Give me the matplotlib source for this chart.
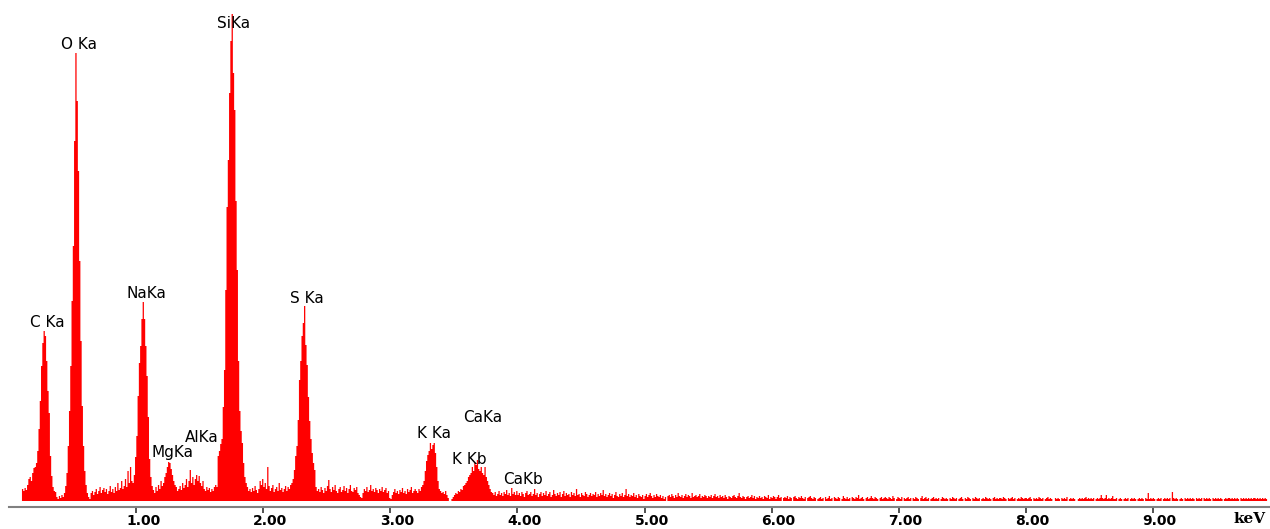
import numpy as np
import matplotlib
matplotlib.use("Agg")
import matplotlib.pyplot as plt
from matplotlib.transforms import ScaledTranslation

# ---------------- data ----------------
energy_start = 0.10      # keV, first channel
channel_width = 0.01     # keV per channel

counts = [
    # 0.10 - 0.99
    12, 10, 13, 11, 16, 22, 24, 20, 28, 33,
    34, 38, 50, 72, 100, 135, 158, 170, 165, 140,
    110, 88, 45, 25, 14, 10, 9, 4, 2, 5,
    3, 6, 4, 8, 15, 28, 55, 90, 135, 200,
    255, 360, 448, 400, 330, 240, 160, 95, 55, 30,
    16, 8, 4, 2, 8, 10, 6, 9, 12, 7,
    10, 14, 8, 11, 13, 9, 12, 7, 10, 15,
    9, 12, 8, 14, 10, 18, 11, 13, 20, 12,
    15, 22, 14, 30, 18, 34, 20, 18, 26, 44,
    # 1.00 - 1.99
    65, 105, 138, 155, 182, 199, 182, 155, 125, 84,
    42, 24, 15, 11, 8, 14, 10, 16, 12, 20,
    15, 18, 24, 28, 34, 39, 38, 32, 26, 20,
    16, 14, 10, 12, 15, 11, 18, 13, 16, 22,
    14, 20, 31, 18, 24, 16, 22, 26, 20, 25,
    18, 15, 20, 12, 10, 14, 11, 13, 9, 12,
    10, 14, 16, 14, 45, 50, 57, 62, 94, 131,
    211, 294, 341, 408, 460, 487, 428, 391, 300, 231,
    140, 90, 70, 58, 38, 24, 18, 14, 10, 12,
    9, 13, 10, 15, 11, 8, 12, 20, 16, 22,
    # 2.00 - 2.99
    14, 18, 12, 34, 15, 10, 13, 16, 9, 12,
    14, 10, 18, 11, 13, 9, 12, 15, 10, 14,
    12, 16, 18, 22, 31, 45, 55, 81, 121, 140,
    165, 178, 195, 156, 136, 104, 80, 62, 48, 38,
    31, 14, 10, 12, 9, 14, 11, 8, 13, 10,
    15, 21, 12, 9, 14, 11, 16, 10, 8, 12,
    14, 9, 11, 15, 10, 13, 8, 12, 16, 10,
    9, 13, 11, 14, 8, 6, 4, 3, 8, 12,
    10, 14, 9, 11, 16, 10, 12, 9, 13, 11,
    8, 12, 10, 14, 9, 11, 13, 8, 10, 3,
    # 3.00 - 3.99
    2, 6, 9, 12, 8, 10, 7, 11, 9, 13,
    8, 10, 7, 12, 9, 11, 14, 8, 10, 12,
    10, 8, 12, 10, 14, 16, 20, 30, 40, 46,
    50, 58, 52, 56, 58, 48, 34, 20, 12, 10,
    8, 9, 7, 10, 6, 3, 0, 0, 2, 4,
    6, 8, 7, 10, 9, 12, 11, 15, 16, 18,
    20, 24, 26, 28, 34, 30, 38, 36, 41, 32,
    30, 34, 28, 26, 34, 24, 20, 16, 12, 9,
    8, 6, 9, 5, 7, 10, 6, 8, 5, 9,
    7, 11, 6, 8, 5, 13, 7, 9, 6, 10,
    # 4.00 - 4.99
    6, 8, 5, 9, 7, 4, 8, 10, 6, 7,
    9, 5, 7, 12, 6, 8, 4, 7, 9, 5,
    8, 6, 10, 5, 7, 9, 4, 6, 11, 7,
    5, 8, 6, 9, 4, 7, 10, 5, 8, 6,
    7, 4, 9, 6, 8, 5, 12, 6, 7, 4,
    8, 6, 5, 9, 7, 4, 6, 8, 5, 7,
    6, 9, 4, 7, 5, 8, 6, 11, 5, 7,
    4, 6, 8, 5, 7, 3, 6, 9, 5, 4,
    7, 5, 8, 4, 6, 12, 5, 7, 4, 6,
    5, 8, 4, 6, 3, 7, 5, 4, 6, 2,
    # 5.00 - 5.99
    5, 7, 4, 6, 8, 5, 3, 6, 4, 7,
    5, 4, 6, 3, 5, 2, 4, 0, 5, 6,
    4, 7, 5, 3, 6, 4, 8, 5, 4, 6,
    3, 5, 7, 4, 6, 5, 3, 8, 4, 5,
    6, 4, 5, 7, 3, 5, 4, 6, 5, 3,
    5, 4, 6, 3, 5, 7, 4, 5, 3, 6,
    4, 5, 3, 6, 4, 2, 5, 4, 3, 5,
    6, 4, 3, 5, 8, 4, 3, 5, 4, 2,
    4, 5, 3, 4, 6, 3, 5, 2, 4, 3,
    5, 3, 4, 2, 5, 4, 3, 6, 2, 4,
    # 6.00 - 6.99
    3, 5, 4, 2, 4, 6, 3, 4, 0, 3,
    4, 3, 5, 2, 4, 3, 0, 4, 5, 3,
    2, 4, 3, 5, 3, 2, 4, 0, 3, 4,
    5, 3, 2, 4, 3, 0, 2, 3, 4, 2,
    3, 0, 4, 2, 3, 5, 2, 3, 0, 4,
    3, 2, 4, 3, 0, 2, 5, 3, 2, 4,
    2, 3, 0, 4, 3, 2, 4, 3, 6, 2,
    3, 4, 2, 0, 3, 4, 2, 3, 5, 3,
    2, 4, 3, 2, 0, 3, 4, 2, 3, 4,
    3, 2, 4, 3, 2, 5, 3, 0, 2, 4,
    # 7.00 - 7.99
    3, 2, 4, 0, 3, 2, 3, 4, 2, 3,
    0, 3, 2, 4, 3, 2, 0, 3, 5, 2,
    3, 4, 2, 3, 0, 2, 3, 4, 2, 3,
    2, 3, 0, 2, 4, 3, 2, 3, 2, 0,
    3, 2, 4, 3, 2, 3, 0, 2, 3, 4,
    2, 0, 3, 2, 4, 3, 2, 0, 3, 2,
    4, 3, 2, 3, 0, 2, 3, 2, 4, 3,
    2, 3, 2, 0, 3, 4, 2, 3, 2, 3,
    3, 2, 4, 3, 2, 0, 3, 2, 3, 4,
    2, 3, 0, 2, 3, 2, 4, 3, 2, 3,
    # 8.00 - 8.99
    3, 2, 3, 4, 2, 0, 3, 2, 3, 2,
    4, 3, 2, 3, 0, 2, 3, 4, 2, 3,
    2, 0, 0, 3, 2, 3, 2, 0, 3, 2,
    3, 2, 4, 0, 2, 3, 2, 3, 2, 0,
    0, 2, 3, 2, 3, 2, 3, 4, 2, 3,
    2, 3, 2, 3, 0, 2, 3, 2, 3, 6,
    3, 2, 3, 6, 2, 3, 2, 3, 5, 2,
    2, 3, 0, 2, 3, 2, 0, 2, 3, 2,
    3, 0, 2, 3, 2, 3, 2, 0, 2, 3,
    2, 3, 2, 0, 3, 2, 8, 2, 3, 2,
    # 9.00 - 9.89
    3, 2, 0, 2, 3, 2, 3, 0, 2, 3,
    2, 3, 2, 3, 0, 9, 3, 2, 3, 2,
    0, 2, 3, 2, 0, 3, 2, 3, 2, 3,
    2, 3, 2, 0, 3, 2, 3, 2, 3, 0,
    3, 2, 3, 2, 3, 2, 0, 3, 2, 3,
    2, 3, 2, 3, 2, 0, 2, 3, 2, 3,
    3, 2, 3, 2, 3, 2, 3, 2, 0, 3,
    2, 3, 2, 3, 2, 3, 2, 3, 2, 3,
    3, 2, 3, 2, 3, 2, 3, 2, 3, 2,
]

peak_labels = ["C Ka", "O Ka", "NaKa", "SiKa", "MgKa", "AlKa",
               "S Ka", "K Ka", "CaKa", "K Kb", "CaKb"]
label_energy = [0.164, 0.407, 0.919, 1.635, 1.123, 1.383,
                2.210, 3.209, 3.571, 3.485, 3.886]
label_height = [174, 452, 203, 473, 44, 59,
                198, 63, 79, 37, 17]

tick_values = [1, 2, 3, 4, 5, 6, 7, 8, 9]
tick_labels = ["1.00", "2.00", "3.00", "4.00", "5.00",
               "6.00", "7.00", "8.00", "9.00"]
unit_label = "keV"

# ---------------- figure ----------------
W, H, DPI = 1270, 529, 100
fig = plt.figure(figsize=(W / DPI, H / DPI), dpi=DPI)
left_px, bottom_px = 9.25, 22
ax = fig.add_axes([left_px / W, bottom_px / H, 1 - left_px / W, 1 - bottom_px / H])

edges = energy_start + channel_width * np.arange(len(counts) + 1)
ax.stairs(counts, edges, fill=True, color="#ff0000", linewidth=0)

ax.set_xlim(0, 9.923)
ax.set_ylim(-6, 501)

for s in ("top", "right", "left"):
    ax.spines[s].set_visible(False)
ax.spines["bottom"].set_color("#808080")
ax.spines["bottom"].set_linewidth(1.5)
ax.set_yticks([])

ax.set_xticks(tick_values)
ax.set_xticklabels(tick_labels, fontfamily="DejaVu Sans", fontweight="bold", fontsize=10)
ax.tick_params(axis="x", direction="out", length=4, width=1.2, color="#333333", pad=1)
offset = ScaledTranslation(7 / DPI, 0, fig.dpi_scale_trans)
for lab in ax.get_xticklabels():
    lab.set_transform(lab.get_transform() + offset)

for name, e, h in zip(peak_labels, label_energy, label_height):
    ax.text(e, h, name, ha="left", va="baseline", fontsize=11,
            fontfamily="DejaVu Sans", color="black")

fig.text(1233 / W, 1 - 523 / H, unit_label, ha="left", va="baseline",
         fontsize=11, fontweight="bold", fontfamily="DejaVu Serif")

fig.savefig("out.png", dpi=DPI)
